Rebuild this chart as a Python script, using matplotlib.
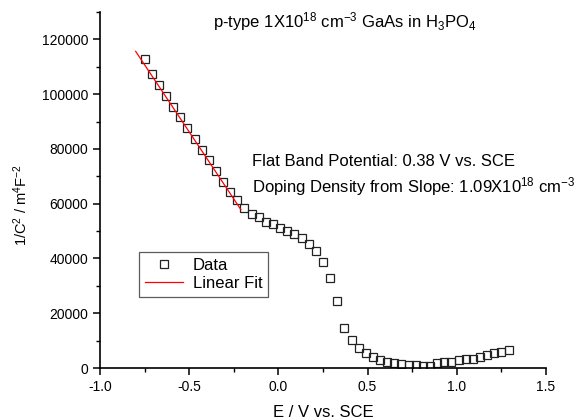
import numpy as np
import matplotlib
matplotlib.use('Agg')
import matplotlib.pyplot as plt
from matplotlib.ticker import MultipleLocator, FormatStrFormatter

plt.rcParams['font.family'] = ['Liberation Sans', 'DejaVu Sans']
plt.rcParams['mathtext.default'] = 'regular'

# potential (V vs. SCE), 0.04 V steps from -0.75 to 1.29
E = np.round(np.arange(52) * 0.04 - 0.75, 2)
invC2 = np.array([
    112700, 107300, 103200, 99250, 95370, 91700, 87550, 83530, 79750, 75850,
    72070, 67800, 64280, 61460, 58600, 56340, 55000, 53400, 52430, 51100,
    50000, 48770, 47450, 45250, 42800, 38780, 32800, 24500, 14740, 10240,
    7200, 5380, 4020, 3040, 2300, 1830, 1570, 1200, 970, 840,
    840, 1940, 2080, 2300, 2800, 3180, 3400, 4020, 4650, 5380,
    5850, 6600])

# linear fit (Mott-Schottky)
fit_Efb = 0.38
fit_slope = -98000.0
fit_range = [-0.80, -0.21]

fig = plt.figure(figsize=(5.86, 4.2), dpi=100)
ax = fig.add_axes([0.1706, 0.1238, 0.7611, 0.8476])

fx = np.array(fit_range)
fline, = ax.plot(fx, fit_slope * (fx - fit_Efb), color='red', lw=0.9, zorder=3)
data, = ax.plot(E, invC2, 's', ms=5.2, mfc='none', mec='#222222', mew=0.9, zorder=2)

ax.set_xlim(-1.0, 1.5)
ax.set_ylim(0, 130000)
for s in ['top', 'right']:
    ax.spines[s].set_visible(False)
for s in ['left', 'bottom']:
    ax.spines[s].set_linewidth(1.2)

ax.xaxis.set_major_locator(MultipleLocator(0.5))
ax.xaxis.set_minor_locator(MultipleLocator(0.25))
ax.xaxis.set_major_formatter(FormatStrFormatter('%1.1f'))
ax.yaxis.set_major_locator(MultipleLocator(20000))
ax.yaxis.set_minor_locator(MultipleLocator(10000))
ax.tick_params(which='major', direction='out', length=5, width=1.1, labelsize=10)
ax.tick_params(which='minor', direction='out', length=3, width=1.0)

ax.set_xlabel('E / V vs. SCE', fontsize=12, labelpad=8)
ax.set_ylabel('1/C$^2$ / m$^4$F$^{-2}$', fontsize=10.5)
ax.yaxis.set_label_coords(-0.157, 0.458)

ax.text(0.37, 126600, 'p-type 1X10$^{18}$ cm$^{-3}$ GaAs in H$_3$PO$_4$',
        ha='center', va='center', fontsize=12)
ax.text(-0.15, 75400, 'Flat Band Potential: 0.38 V vs. SCE',
        ha='left', va='center', fontsize=12)
ax.text(-0.15, 66200, 'Doping Density from Slope: 1.09X10$^{18}$ cm$^{-3}$',
        ha='left', va='center', fontsize=12)

leg = ax.legend([data, fline], ['Data', 'Linear Fit'], loc='upper left',
                bbox_to_anchor=(0.087, 0.326), fontsize=12, fancybox=False,
                handlelength=2.3, handletextpad=0.6, borderpad=0.35,
                labelspacing=0.2, borderaxespad=0)
leg.get_frame().set_edgecolor('#333333')
leg.get_frame().set_linewidth(0.9)

fig.savefig('out.png', dpi=100)
